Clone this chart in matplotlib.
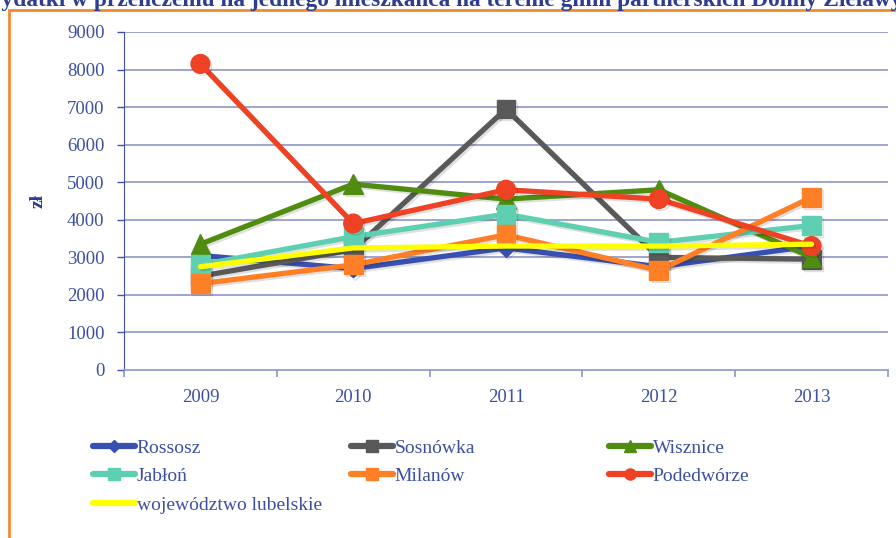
import matplotlib
matplotlib.use("Agg")
import matplotlib.pyplot as plt
import matplotlib.patheffects as pe
from matplotlib.lines import Line2D
from matplotlib.patches import Rectangle
import numpy as np

years = ["2009", "2010", "2011", "2012", "2013"]
rossosz = [3050, 2700, 3250, 2750, 3300]
sosnowka = [2500, 3200, 6950, 3000, 2950]
wisznice = [3350, 4950, 4550, 4800, 3000]
jablon = [2800, 3550, 4150, 3400, 3850]
milanow = [2300, 2800, 3600, 2650, 4600]
podedworze = [8150, 3900, 4800, 4550, 3300]
lubelskie = [2750, 3250, 3300, 3300, 3350]

series_names = ["Rossosz", "Sosnówka", "Wisznice", "Jabłoń", "Milanów", "Podedwórze",
                "województwo lubelskie"]
series_values = [rossosz, sosnowka, wisznice, jablon, milanow, podedworze, lubelskie]
colors = ["#3a50b0", "#595959", "#4f8c10", "#5fcfb2", "#ff7f27", "#ef4123", "#ffff00"]
markers = ["D", "s", "^", "s", "s", "o", None]
msizes = [9, 13.5, 14, 13.5, 13.5, 13.5, 0]
leg_ms = [6, 8, 8, 8, 8, 8, 0]

title = "Wydatki w przeliczeniu na jednego mieszkańca na terenie gmin partnerskich Doliny Zielawy"

W, H = 896, 538
fig = plt.figure(figsize=(W / 100, H / 100), dpi=100)
plt.rcParams['font.family'] = ['Liberation Serif', 'DejaVu Serif']

text_col = "#3d4fa3"
axis_col = "#4050a8"
grid_col = "#8e95c8"

# orange frame
fig.patches.append(Rectangle((9 / W, -0.1), 1.2, 1 - 10 / H + 0.1, transform=fig.transFigure,
                             fill=False, edgecolor="#f58a2e", linewidth=2.0, zorder=0))

fig.text(-21 / W, 1 - 6 / H, title, ha="left", va="baseline", fontsize=16.8,
         fontweight="bold", color="#2f3d8f")

ax = fig.add_axes([124 / W, 1 - 370 / H, (888 - 124) / W, (370 - 32) / H])
x = np.arange(len(years))
shadow = [pe.SimpleLineShadow(offset=(1.5, -1.5), shadow_color="#000000", alpha=0.12), pe.Normal()]
for name, vals, c, m, ms in zip(series_names, series_values, colors, markers, msizes):
    ax.plot(x, vals, color=c, linewidth=3.8, marker=m, markersize=ms,
            solid_capstyle="round", solid_joinstyle="round", label=name,
            path_effects=shadow)

ax.set_xlim(-0.5, len(years) - 0.5)
ax.set_ylim(0, 9000)
ax.set_yticks(np.arange(0, 9001, 1000))
ax.set_xticks(np.arange(-0.5, len(years), 1.0))
ax.set_xticklabels([])
ax.set_xticks(x, minor=True)
ax.set_xticklabels(years, minor=True)
ax.tick_params(axis="x", which="minor", length=0, pad=14, labelsize=13.5, labelcolor=text_col)
ax.tick_params(axis="x", which="major", length=5, color=grid_col, width=1.2)
ax.tick_params(axis="y", length=5, color=axis_col, width=1.0, labelsize=13.5,
               labelcolor=text_col, pad=9)
for yv in range(1000, 9001, 1000):
    ax.axhline(yv, color=grid_col, linewidth=1.2, zorder=0)
for s in ["top", "right"]:
    ax.spines[s].set_visible(False)
ax.spines["left"].set_color(axis_col)
ax.spines["bottom"].set_color(grid_col)
ax.spines["bottom"].set_linewidth(1.2)
ax.set_ylabel("zł", fontsize=14, fontweight="bold", color="#2f3d8f", labelpad=15)

# legend in three columns
def handle(i):
    return Line2D([], [], color=colors[i], linewidth=4.5, marker=markers[i],
                  markersize=leg_ms[i], solid_capstyle="round")

cols = [[0, 3, 6], [1, 4], [2, 5]]
xs = [93, 351, 609]
for xi, idxs in zip(xs, cols):
    leg = fig.legend([handle(i) for i in idxs], [series_names[i] for i in idxs],
                     loc="upper left", bbox_to_anchor=(xi / W, 1 - 439 / H),
                     frameon=False, fontsize=14, handlelength=2.15, handletextpad=0.1,
                     labelspacing=0.56, borderpad=0, borderaxespad=0, labelcolor=text_col)

fig.savefig("out.png", dpi=100)
